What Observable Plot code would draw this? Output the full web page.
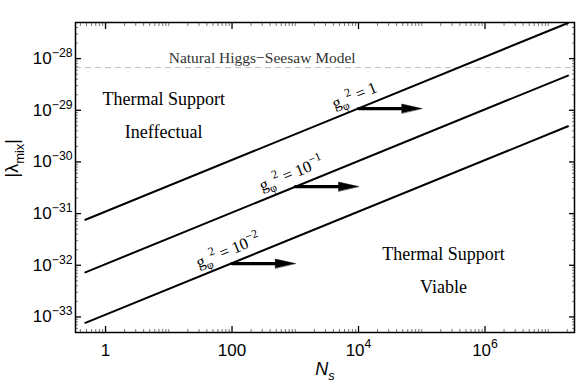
<!DOCTYPE html>
<html><head><meta charset="utf-8">
<script src="https://cdn.jsdelivr.net/npm/d3@7"></script>
<script src="https://cdn.jsdelivr.net/npm/@observablehq/plot@0.6"></script>
<style>body{margin:0;background:#fff;} svg{display:block;}</style>
</head><body><div id="chart"></div>
<script>
// ---- data ----
const couplingLabels = ["g_{φ}^{2} = 1", "g_{φ}^{2} = 10^{−1}", "g_{φ}^{2} = 10^{−2}"];
const nsEnds = [0.48, 2.05e7];
const lambdaAtStart = [7.6e-32, 7.3e-33, 7.7e-34];
const lambdaAtEnd = [4.9e-28, 4.7e-29, 4.9e-30];
const arrowFromNs = [1e4, 1e3, 1e2];
const arrowToNs = [1e5, 1e4, 1e3];
const arrowLambda = [1.08e-29, 3.34e-31, 1.08e-32];
const regionLabels = ["Thermal Support\nIneffectual", "Thermal Support\nViable"];
const regionNs = [8.3, 2.2e5];
const regionLambda = [9.8e-30, 9.6e-33];
const higgsLambda = [6.7e-29];
const higgsLabel = ["Natural Higgs−Seesaw Model"];
const higgsLabelNs = [300];
const xTickValues = [1, 100, 1e4, 1e6];
const xTickLabels = ["1", "100", "10^{4}", "10^{6}"];
const yTickValues = [1e-33, 1e-32, 1e-31, 1e-30, 1e-29, 1e-28];
const yTickLabels = ["10^{−33}", "10^{−32}", "10^{−31}", "10^{−30}", "10^{−29}", "10^{−28}"];
const xLabel = "N_{s}";
const yLabel = "|λ_{mix}|";

// ---- tables built from the arrays ----
const lineData = couplingLabels.flatMap((c, i) => [
  {c, Ns: nsEnds[0], lambda: lambdaAtStart[i]},
  {c, Ns: nsEnds[1], lambda: lambdaAtEnd[i]}
]);
const arrowData = couplingLabels.map((c, i) => ({c, from: arrowFromNs[i], to: arrowToNs[i], lambda: arrowLambda[i]}));
const regionData = regionLabels.map((t, i) => ({t, Ns: regionNs[i], lambda: regionLambda[i]}));
const higgsData = higgsLabel.map((t, i) => ({t, Ns: higgsLabelNs[i], lambda: higgsLambda[i]}));

const minorX = [];
for (let k = -1; k <= 7; k++) for (let m = 1; m <= 9; m++) {
  const v = m * 10 ** k;
  if (v >= 0.335 && v <= 2.6e7 && !xTickValues.includes(v)) minorX.push(v);
}
const minorY = [];
for (let k = -34; k <= -28; k++) for (let m = 2; m <= 9; m++) {
  const v = m * 10 ** k;
  if (v >= 5e-34 && v <= 5e-28) minorY.push(v);
}

const fmtX = d => xTickLabels[xTickValues.indexOf(d)] ?? "";
const fmtY = d => { const i = yTickValues.findIndex(v => Math.abs(Math.log10(v) - Math.log10(d)) < 1e-6); return i >= 0 ? yTickLabels[i] : ""; };
const blank = () => "";
const serif = "Liberation Serif, Times New Roman, serif";
const sans = "Liberation Sans, Arial, Helvetica, sans-serif";

const headShape = {
  draw(ctx, l, r) { ctx.moveTo(0, -l); ctx.lineTo(-r, 0); ctx.lineTo(r, 0); ctx.closePath(); }
};

const chart = Plot.plot({
  width: 581, height: 386,
  marginLeft: 75, marginRight: 7, marginTop: 22, marginBottom: 54,
  style: {fontFamily: sans, fontSize: "16px", color: "black", background: "white"},
  x: {type: "log", domain: [0.335, 2.6e7], label: null},
  y: {type: "log", domain: [5e-34, 5e-28], label: null},
  marks: [
    Plot.ruleY(higgsLambda, {stroke: "#bdbdbd", strokeDasharray: "6,4", strokeWidth: 1}),
    Plot.text(higgsData, {x: "Ns", y: "lambda", text: "t", dy: -5, lineAnchor: "bottom", fontFamily: serif, fontSize: 15.5, fill: "#333"}),
    // minor ticks
    Plot.axisX({anchor: "bottom", ticks: minorX, tickSize: -3, tickFormat: blank, label: null, stroke: "#555", strokeWidth: 0.8}),
    Plot.axisX({anchor: "top", ticks: minorX, tickSize: -3, tickFormat: blank, label: null, stroke: "#555", strokeWidth: 0.8}),
    Plot.axisY({anchor: "left", ticks: minorY, tickSize: -3, tickFormat: blank, label: null, stroke: "#555", strokeWidth: 0.8}),
    Plot.axisY({anchor: "right", ticks: minorY, tickSize: -3, tickFormat: blank, label: null, stroke: "#555", strokeWidth: 0.8}),
    // major ticks
    Plot.axisX({anchor: "bottom", ticks: xTickValues, tickSize: -6, tickPadding: 17, tickFormat: fmtX, label: null, fontSize: 17, strokeWidth: 1.3}),
    Plot.axisX({anchor: "top", ticks: xTickValues, tickSize: -6, tickFormat: blank, label: null, strokeWidth: 1.3}),
    Plot.axisY({anchor: "left", ticks: yTickValues, tickSize: -6, tickPadding: 9, tickFormat: fmtY, label: null, fontSize: 17, strokeWidth: 1.3}),
    Plot.axisY({anchor: "right", ticks: yTickValues, tickSize: -6, tickFormat: blank, label: null, strokeWidth: 1.3}),
    Plot.line(lineData, {x: "Ns", y: "lambda", z: "c", stroke: "black", strokeWidth: 2}),
    Plot.arrow(arrowData, {x1: "from", x2: "to", y1: "lambda", y2: "lambda", headLength: 0, insetEnd: 16, strokeWidth: 3.2, stroke: "black"}),
    Plot.vector(arrowData, {x: "to", y: "lambda", rotate: 90, length: 20, r: 4.5, anchor: "end", shape: headShape, fill: "black", stroke: "black", strokeWidth: 0.5}),
    Plot.text(arrowData, {x: "from", y: "lambda", text: "c", rotate: -22.2, dx: -4, dy: -13, fontFamily: serif, fontSize: 16.5}),
    Plot.text(regionData, {x: "Ns", y: "lambda", text: "t", lineHeight: 1.82, fontFamily: serif, fontSize: 18}),
    Plot.text([xLabel], {frameAnchor: "bottom", dy: 42, fontStyle: "italic", fontSize: 18, fontFamily: sans}),
    Plot.text([yLabel], {frameAnchor: "left", dx: -63, rotate: -90, fontSize: 18, fontFamily: sans}),
    Plot.frame({stroke: "black", strokeWidth: 1.5})
  ]
});
document.getElementById("chart").appendChild(chart);

// turn ^{..} and _{..} into raised/lowered tspans
function richify(el) {
  const s = el.textContent;
  if (!/[\^_]\{/.test(s)) return;
  const base = parseFloat(getComputedStyle(el).fontSize) || 16;
  el.textContent = "";
  const re = /([\^_])\{([^}]*)\}/g;
  let last = 0, m, cur = 0;
  const add = (txt, kind) => {
    if (!txt) return;
    const target = kind === "^" ? -0.42 * base : kind === "_" ? 0.3 * base : 0;
    const t = document.createElementNS("http://www.w3.org/2000/svg", "tspan");
    t.textContent = txt;
    if (target !== cur) t.setAttribute("dy", (target - cur).toFixed(2));
    if (kind) t.setAttribute("font-size", (0.72 * base).toFixed(2));
    cur = target;
    el.appendChild(t);
  };
  while ((m = re.exec(s))) {
    add(s.slice(last, m.index), null);
    add(m[2], m[1]);
    last = re.lastIndex;
  }
  add(s.slice(last), null);
}
chart.querySelectorAll("text").forEach(richify);
</script>
</body></html>
